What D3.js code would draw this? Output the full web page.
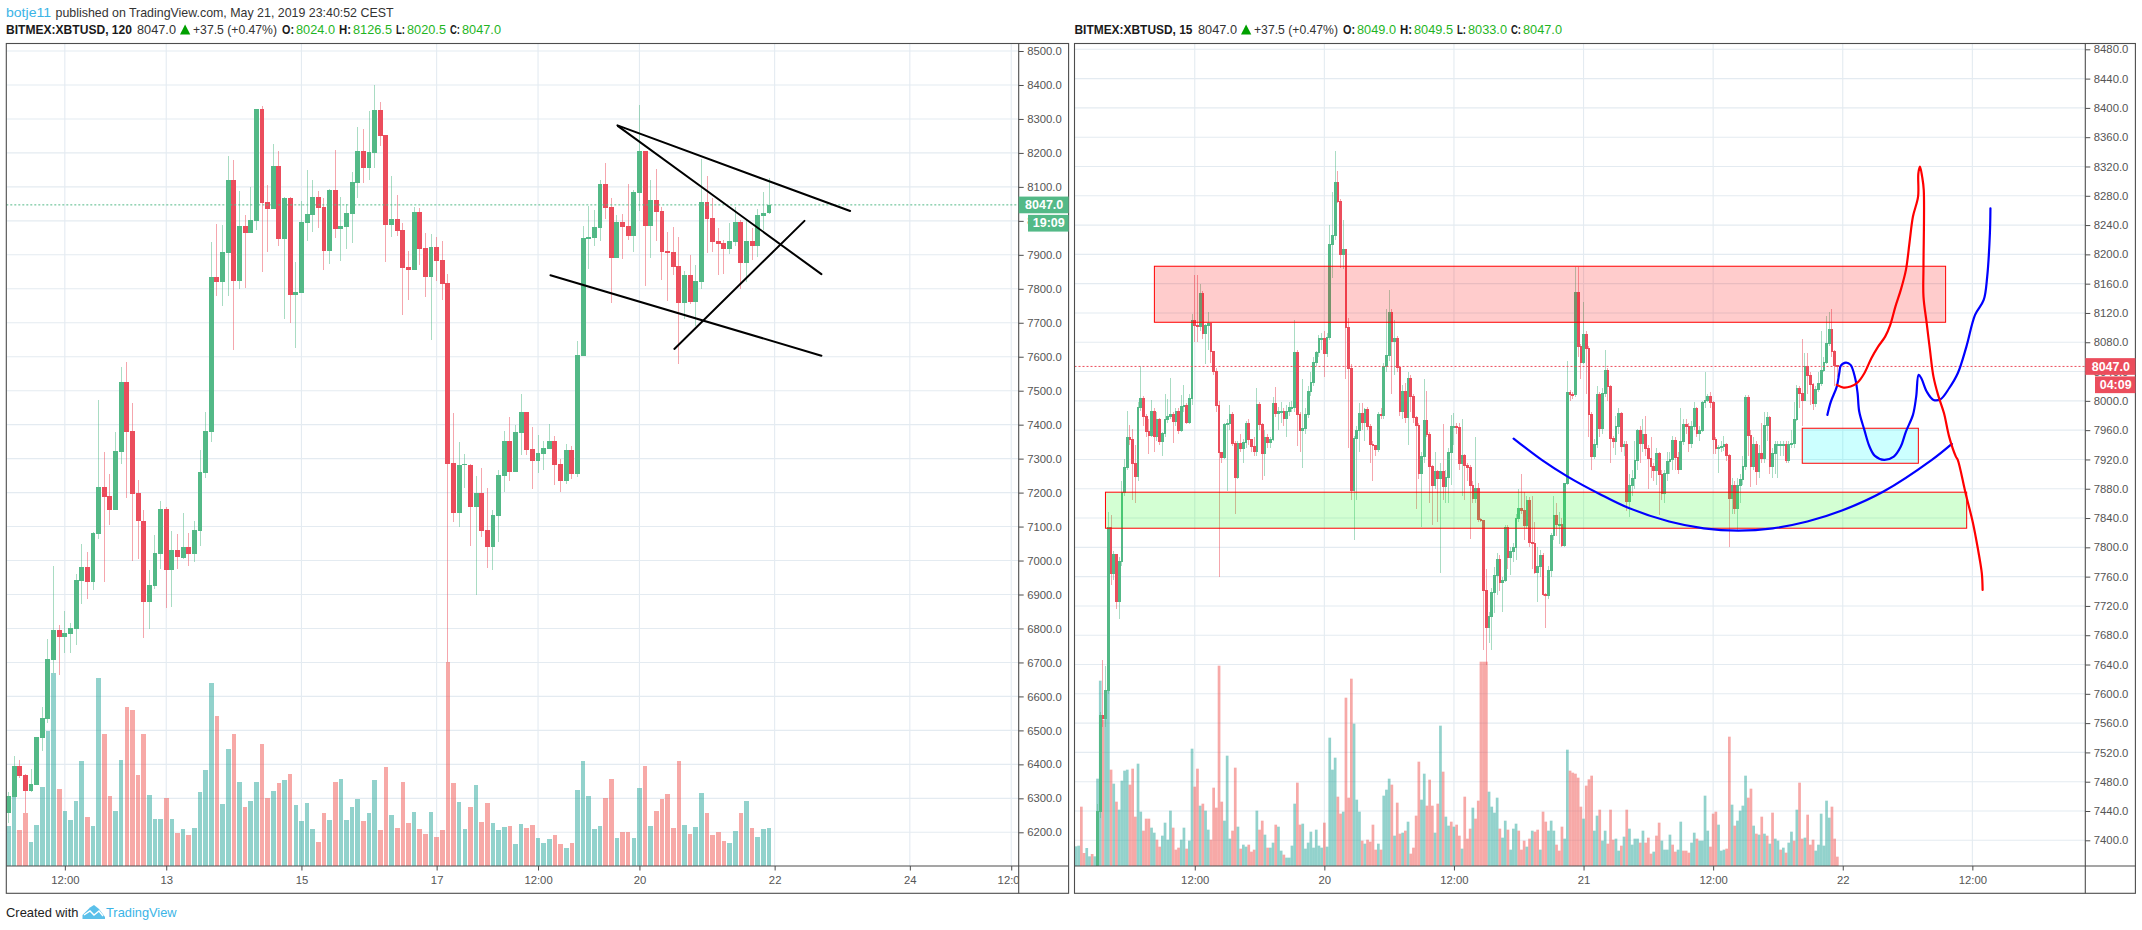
<!DOCTYPE html>
<html><head><meta charset="utf-8">
<script src="https://cdn.jsdelivr.net/npm/d3@7/dist/d3.min.js"></script>
<style>html,body{margin:0;padding:0;background:#fff}svg{display:block}text{font-family:"Liberation Sans",Arial,sans-serif}</style>
</head><body><svg id="c" width="2142" height="930"></svg>
<script>
// ---------- LEFT CHART (120 min) ----------
const leftOpen=[6258,6305,6395,6369,6323,6340,6479,6535,6707,6796,
6776,6785,6799,6941,6981,6938,7078,7217,7190,7149,
7320,7526,7382,7198,7115,6879,6925,7019,7151,6972,
7031,7008,7040,7019,7087,7259,7379,7834,7820,7905,
8120,7823,7985,7965,8000,8329,8056,8035,8161,7947,
8067,7782,7788,7994,8017,8070,8041,7911,8091,7976,
7982,8021,8111,8206,8156,8200,8326,8253,7988,8006,
7973,7864,7855,8026,7920,7835,7923,7885,7817,7287,
7141,7281,7281,7159,7199,7090,7041,7132,7250,7352,
7261,7376,7437,7329,7293,7314,7329,7352,7284,7235,
7326,7255,7602,7947,7950,7979,8108,8041,7891,7997,
7985,7955,8082,8206,7985,8061,8029,7911,7908,7867,
7758,7841,7761,7820,8055,8008,7941,7935,7917,7938,
7997,7876,7941,7926,8014,8024];
const leftClose=[6307,6395,6367,6323,6342,6480,6536,6709,6796,6776,
6786,6800,6943,6981,6938,7080,7217,7188,7149,7323,
7526,7379,7196,7115,6879,6928,7021,7151,6972,7031,
7009,7040,7019,7090,7261,7382,7834,7820,7907,8119,
7823,7985,7965,8002,8329,8054,8035,8161,7947,8067,
7782,7790,7997,8020,8070,8038,7911,8091,7976,7985,
8023,8114,8206,8156,8203,8326,8250,7988,8006,7970,
7861,7855,8026,7917,7835,7923,7882,7814,7284,7141,
7281,7283,7159,7199,7087,7041,7134,7252,7352,7261,
7379,7437,7326,7293,7317,7331,7352,7281,7235,7326,
7255,7605,7950,7953,7982,8108,8038,7891,7997,7982,
7955,8085,8206,7985,8061,8026,7908,7905,7864,7758,
7841,7761,7823,8055,8005,7938,7932,7917,7941,7997,
7876,7941,7926,8017,8023,8047];
const leftHigh=[6320,6425,6413,6372,6387,6480,6569,6769,6984,6810,
6852,6815,6960,7049,7024,7085,7473,7320,7255,7379,
7570,7585,7464,7237,7149,6972,7075,7175,7159,7087,
7078,7139,7080,7116,7326,7437,7938,7991,7988,8191,
8179,8088,8017,8099,8329,8338,8106,8226,8206,8071,
8071,7880,8058,8150,8120,8088,8067,8094,8209,8071,
8050,8144,8276,8270,8323,8400,8350,8253,8132,8076,
7994,7911,8041,8038,7964,7961,7953,7941,7844,7435,
7349,7314,7285,7250,7272,7214,7149,7267,7382,7423,
7399,7490,7437,7393,7370,7352,7402,7367,7299,7343,
7337,7646,7985,8044,8032,8120,8170,8067,8017,8020,
8108,8091,8341,8206,8120,8153,8040,7967,7982,7953,
7852,7900,7870,8182,8132,8067,7979,7944,7994,8041,
8003,8003,7979,8035,8085,8126.5];
const leftLow=[6227,6305,6361,6256,6320,6340,6438,6523,6670,6663,
6729,6729,6752,6872,6887,6913,7062,6938,7105,7149,
7284,7183,7000,7005,6773,6799,6916,6975,6861,6864,
6975,7005,6985,6997,7043,7244,7349,7780,7750,7780,
7620,7800,7802,7965,7973,7849,7909,8035,7926,7711,
7700,7627,7788,7941,7967,7979,7855,7873,7950,7882,
7917,7935,8067,8111,8120,8156,8220,7879,7953,7955,
7723,7767,7855,7870,7776,7649,7823,7767,6700,7114,
7100,7214,7043,6899,7070,6979,6973,7056,7202,7235,
7261,7311,7311,7211,7257,7267,7329,7222,7202,7225,
7241,7247,7602,7858,7926,7941,8005,7758,7891,7888,
7944,7908,8029,7808,7891,7941,7826,7764,7841,7579,
7711,7755,7691,7800,7905,7908,7841,7844,7902,7926,
7800,7820,7885,7894,7973,8020.5];
// volume in millions; sign of candle gives the colour
const leftVolume=[121,209,109,159,73,124,238,406,580,232,
166,139,196,316,148,121,565,397,211,166,
319,478,469,274,397,214,142,142,205,142,
100,112,94,115,223,289,550,451,187,352,
397,253,178,196,253,367,205,226,250,259,
277,184,136,190,112,73,160,139,253,262,
139,178,202,136,160,259,109,298,154,115,
253,130,163,112,97,163,88,109,613,250,
193,112,178,244,133,190,130,109,118,121,
67,127,115,124,85,70,82,94,67,55,
70,229,316,211,112,121,205,262,85,103,
103,85,235,301,121,166,202,217,115,316,
124,97,118,220,160,94,103,76,70,106,
160,196,115,88,112,115];
const leftTickIndex=[10,28,52,76,94,112,136,160,178];
const leftTickLabels=["12:00","13","15","17","12:00","20","22","24","12:00"];
const leftPriceTicks=[8500,8400,8300,8200,8100,8000,7900,7800,7700,7600,7500,7400,7300,7200,7100,7000,6900,6800,6700,6600,6500,6400,6300,6200];
// hand-drawn trend lines: [bar index, price] pairs
const leftTrend1=[[108.1,8281],[149.4,8029]];
const leftTrend2=[[108.2,8279],[144.3,7843]];
const leftTrend3=[[118.2,7623],[141.3,8000]];
const leftTrend4=[[96.2,7840],[144.3,7603]];

// ---------- RIGHT CHART (15 min); bar index starts at -8 ----------
const rightFirstIndex=-8, rightFirstOpen=7310;
const rightClose=[7320,7325,7318,7330,7335,7340,7345,7350,7439,7570,
7566,7604,7827,7764,7790,7726,7781,7875,7909,7950,
7947,7914,7897,7991,8003,7978,7958,7953,7986,7951,
7974,7944,7956,7975,7978,7981,7972,7985,7960,7992,
7994,7970,8003,8110,8103,8102,8147,8092,8103,8106,
8068,8040,7993,7929,7922,7968,7969,7981,7942,7895,
7942,7935,7943,7969,7947,7937,7931,7995,7968,7928,
7950,7943,7947,7997,7983,7985,7986,7976,7986,7991,
7991,8066,7981,7960,7962,7981,8013,8025,8052,8066,
8085,8085,8065,8087,8214,8226,8298,8272,8200,8207,
8100,8044,7878,7948,7959,7983,7970,7988,7965,7941,
7939,7933,7982,7980,8047,8062,8120,8081,8085,8045,
7985,8013,7977,8031,8006,7977,7967,7901,7924,7973,
7954,7911,7885,7904,7894,7904,7883,7896,7929,7965,
7965,7964,7915,7926,7912,7909,7884,7867,7881,7838,
7836,7741,7690,7705,7739,7761,7783,7752,7755,7827,
7786,7794,7800,7840,7853,7850,7830,7864,7806,7805,
7765,7774,7789,7735,7734,7768,7816,7843,7831,7831,
7802,7887,8011,8009,8008,8148,8074,8053,8091,8071,
7981,7924,7940,8008,7962,8010,8041,8020,7949,7945,
7965,7983,7937,7941,7862,7885,7894,7919,7960,7942,
7954,7935,7921,7910,7905,7928,7899,7874,7901,7917,
7920,7946,7922,7906,7944,7968,7965,7942,7965,7990,
7956,7960,7998,8001,8006,7998,7947,7935,7936,7938,
7941,7925,7867,7885,7853,7885,7892,7910,8005,7953,
7910,7941,7903,7928,7921,7967,7977,7910,7928,7940,
7940,7940,7940,7919,7940,7942,7975,8017,8010,8001,
8047,8034,8022,7996,8016,8024,8042,8053,8078,8098,
8067,8048,8047];
const rightHigh=[7335,7338,7332,7342,7345,7350,7355,7360,7450,7575,
7646,7638,7848,7844,7795,7790,7787,7890,7920,7986,
7967,7962,7940,7998,8047,8006,7982,7975,8001,7990,
7985,7977,7958,8010,8003,8031,7985,7990,7990,8008,
8022,7997,8010,8118,8172,8172,8160,8150,8105,8122,
8106,8068,8045,8000,7925,7970,7975,7995,7985,7945,
7945,7955,7948,7972,7975,7948,7950,8018,7998,7970,
7960,7955,7950,8005,8019,7992,7998,7990,7995,7998,
8000,8110,8070,7985,8030,7990,8020,8040,8060,8068,
8090,8092,8095,8092,8240,8285,8341,8314,8275,8247,
8207,8113,8050,7952,7965,7997,7997,7990,7992,7968,
7945,7940,7985,7990,8052,8125,8152,8125,8110,8088,
8048,8022,8025,8040,8035,8010,7980,7970,7930,8030,
8014,7958,7912,7930,7905,7915,7969,7905,7935,7981,
7983,7970,7970,7975,7928,7915,7912,7890,7950,7888,
7840,7836,7770,7712,7745,7773,7792,7790,7760,7830,
7830,7800,7806,7845,7880,7900,7875,7870,7869,7870,
7835,7800,7797,7792,7737,7775,7820,7870,7860,7848,
7840,7887,8055,8015,8012,8183,8183,8078,8135,8095,
8075,7985,7948,8020,8012,8018,8069,8045,8022,7952,
7980,7990,7985,7945,7945,7900,7905,7945,7962,7965,
7975,7980,7940,7950,7915,7935,7930,7905,7905,7930,
7930,7952,7950,7930,7990,7975,7975,7970,7972,7998,
7992,7965,8000,8040,8010,8012,8000,7950,7940,7945,
7952,7943,7928,7895,7890,7895,7900,7925,8008,8008,
7960,7950,7945,7940,7970,7985,7985,7980,7935,7945,
7945,7945,7945,7945,7945,7960,7998,8022,8020,8085,
8065,8065,8040,8025,8020,8040,8096,8060,8116,8121,
8126,8070,8049.5];
const rightLow=[7310,7315,7310,7318,7325,7330,7335,7340,7345,7430,
7555,7555,7600,7748,7755,7716,7702,7775,7870,7905,
7940,7864,7861,7891,7986,7965,7950,7928,7950,7930,
7945,7940,7925,7950,7970,7975,7943,7965,7955,7958,
7985,7968,7968,7995,8080,8081,8095,8085,8050,8070,
8052,8035,7985,7760,7915,7920,7877,7960,7938,7846,
7893,7930,7915,7935,7940,7930,7925,7925,7960,7892,
7897,7935,7935,7945,7978,7960,7970,7965,7950,7980,
7985,7985,7938,7930,7909,7955,7977,8007,8020,8048,
8060,8070,8032,8060,8083,8168,8220,8270,8182,8180,
8030,7935,7864,7810,7865,7930,7960,7945,7960,7915,
7891,7925,7930,7975,7975,8040,8055,8010,8035,8040,
7980,7975,7970,7940,7985,7970,7853,7893,7828,7915,
7950,7860,7830,7880,7835,7765,7865,7860,7860,7885,
7940,7955,7905,7870,7865,7890,7811,7860,7860,7835,
7835,7660,7640,7670,7660,7710,7735,7740,7712,7752,
7770,7762,7780,7783,7835,7845,7810,7825,7800,7770,
7763,7725,7760,7733,7690,7730,7760,7810,7815,7805,
7800,7800,7885,8000,8003,8005,8060,8030,8050,8010,
7950,7906,7920,7935,7950,7955,8005,8000,7915,7935,
7926,7955,7930,7925,7850,7842,7870,7880,7905,7915,
7930,7925,7880,7895,7890,7885,7844,7865,7860,7890,
7900,7905,7905,7900,7905,7940,7955,7930,7935,7960,
7950,7945,7958,7990,7998,7990,7928,7928,7901,7930,
7932,7918,7800,7845,7845,7823,7860,7885,7905,7925,
7882,7905,7885,7895,7915,7915,7945,7900,7895,7900,
7894,7925,7925,7915,7915,7935,7935,7972,7990,7965,
8000,8010,7995,7988,7992,8012,8020,8040,8050,8075,
8060,8020,8033];
// signed volume in millions: negative is a down bar
const rightVolume=[59,61,-178,-39,54,29,-36,29,262,556,
-439,527,527,-289,247,-193,169,256,286,289,
-244,-292,-148,307,163,-106,-142,-142,115,100,
-79,-58,91,130,79,166,-115,-49,-55,79,
115,-52,76,352,-238,-292,181,-187,166,109,
-79,-235,-175,-601,-193,136,331,82,-106,-295,
118,-52,64,58,-64,-43,-49,166,-109,-136,
94,-55,55,70,-124,118,46,-34,25,25,
61,187,-250,-124,127,52,70,103,55,109,
61,55,-130,58,385,289,325,-208,-157,163,
-505,-205,-562,427,199,163,-76,67,-79,-73,
-124,-49,67,-49,211,229,262,-244,91,-190,
-97,100,-106,133,-37,-55,-151,-313,199,277,
-181,-259,-181,100,-187,421,-283,148,121,-133,
118,-124,-91,52,-208,-82,-112,175,-142,-196,
-613,-613,-613,223,178,160,205,-112,85,136,
-109,49,112,127,-106,-49,-76,58,-82,106,
-103,-109,49,-163,-133,106,136,106,-64,-46,
-118,82,349,-286,-280,-277,-265,-178,142,-241,
-260,-271,106,151,-169,76,106,-67,-169,-79,
82,46,-61,88,-169,112,64,82,82,-70,
106,-70,-85,-37,43,-91,-130,76,49,49,
94,-64,-43,49,133,-46,-46,-40,70,100,
-82,76,76,211,106,-58,-157,-163,124,46,
49,-52,-388,184,-121,136,166,181,271,-205,
-232,121,-97,94,-148,97,-91,67,-160,82,
76,-49,55,-40,70,103,-76,169,-250,-82,
85,-154,-64,-79,46,64,157,61,196,145,
-178,-82,-28];
const rightTickIndex=[36,84,132,180,228,276,324];
const rightTickLabels=["12:00","20","12:00","21","12:00","22","12:00"];
const rightPriceTicks=[8480,8440,8400,8360,8320,8280,8240,8200,8160,8120,8080,8040,8000,7960,7920,7880,7840,7800,7760,7720,7680,7640,7600,7560,7520,7480,7440,7400];
// zones: [start bar, end bar, top price, bottom price]
const resistanceZone=[21.05,314.1,8183.8,8107.3];
const supportZone=[2.93,321.9,7875.3,7826.1];
const targetZone=[261,304,7962.6,7914.8];
const blueArc=[[154.1,7948.5],[164.5,7919.4],[174.1,7896.6],[186.1,7872.5],[196.3,7854.3],[211.7,7835.2],[224.5,7826],[237.3,7822.9],[250.1,7826],[262.9,7835.2],[275.7,7850.2],[291.1,7876.2],[309,7919.4],[316.4,7941.2]];
const blueWave=[[270.3,7980.8],[271.6,7999],[273.8,8019.5],[274.7,8037.7],[275.3,8048.2],[277.2,8052.3],[278.9,8049.1],[280.6,8030.9],[281.5,8010.4],[282.1,7985.4],[284,7960.3],[285.9,7937.6],[287.9,7924.8],[291.3,7919.4],[294.9,7923.9],[297.5,7937.6],[299.4,7958.1],[302,7980.8],[303.2,8005.8],[304.1,8035.4],[305.1,8030.9],[307.1,8012.7],[309.6,8001.3],[312.2,8002.2],[315.4,8017.2],[318.6,8037.7],[321.8,8074.1],[325,8117.3],[328.2,8137.8],[329.5,8169.7],[330.5,8228.8],[330.7,8263]];
const redWave=[[273.8,8021.8],[276.3,8018.1],[278.9,8019.5],[281.5,8025],[284,8037.7],[286.6,8058.2],[289.1,8074.1],[291.7,8087.7],[293.6,8103.7],[295.5,8128.7],[297.5,8151.5],[299.4,8178.8],[300.7,8215.2],[302,8251.6],[303.9,8278.9],[304,8310.7],[304.6,8319.8],[305.4,8306.2],[306,8288],[305.9,8183.3],[305.9,8142.4],[307.1,8105.9],[308.3,8069.5],[309.6,8033.1],[311.3,8008.1],[313.5,7983],[315.4,7951.2],[317.9,7923.9],[318.6,7919.4],[321.5,7873.9],[324.1,7835.2],[325.9,7801.1],[327.5,7764.7],[327.8,7741.9]];

// ---------- header text ----------
const headerLine="published on TradingView.com, May 21, 2019 23:40:52 CEST";
const leftHeader={sym:"BITMEX:XBTUSD, 120",o:"8024.0",h:"8126.5",l:"8020.5",c:"8047.0"};
const rightHeader={sym:"BITMEX:XBTUSD, 15",o:"8049.0",h:"8049.5",l:"8033.0",c:"8047.0"};

// ---------- drawing ----------
const GREEN="#53b987",RED="#eb4d5c",GRID="#e4ebf1",FRAME="#4d4d4d",AXT="#555";
const svg=d3.select("#c");
const yBottom=866,frameTop=43.5,frameBottom=893.3;
const volumeY=d3.scaleLinear().domain([0,1000]).range([yBottom,yBottom-333.3]);

function panel(o){
  const g=svg.append("g");
  const x=d3.scaleLinear().domain(o.xDomain).range(o.xRange);
  const y=d3.scaleLinear().domain(o.yDomain).range(o.yRange);
  const clip=o.id+"clip";
  svg.append("clipPath").attr("id",clip).append("rect").attr("x",o.left).attr("y",frameTop).attr("width",o.axisX-o.left).attr("height",yBottom-frameTop);
  const tclip=o.id+"tclip";
  svg.append("clipPath").attr("id",tclip).append("rect").attr("x",o.left).attr("y",yBottom).attr("width",o.axisX-o.left).attr("height",frameBottom-yBottom);
  const pane=g.append("g").attr("clip-path",`url(#${clip})`);
  // grid
  pane.selectAll(".h").data(o.priceTicks).join("line").attr("x1",o.left).attr("x2",o.axisX).attr("y1",d=>y(d)).attr("y2",d=>y(d)).attr("stroke",GRID).attr("stroke-width",1.1);
  pane.selectAll(".v").data(o.tickIndex).join("line").attr("x1",d=>x(d)).attr("x2",d=>x(d)).attr("y1",frameTop).attr("y2",yBottom).attr("stroke",GRID).attr("stroke-width",1.1);
  // volume
  pane.selectAll(".vol").data(o.bars).join("rect").attr("shape-rendering",o.volCrisp?"crispEdges":"auto")
    .attr("x",d=>x(d.i)-o.volW/2).attr("width",o.volW)
    .attr("y",d=>volumeY(Math.abs(d.v))).attr("height",d=>yBottom-volumeY(Math.abs(d.v)))
    .attr("fill",d=>d.vUp?"#26a69a":"#ef5350").attr("fill-opacity",.5);
  // wicks & bodies
  pane.selectAll(".w").data(o.bars).join("line").attr("shape-rendering","crispEdges")
    .attr("x1",d=>x(d.i)).attr("x2",d=>x(d.i)).attr("y1",d=>y(d.h)).attr("y2",d=>y(d.l))
    .attr("stroke",d=>d.c>=d.o?GREEN:RED).attr("stroke-opacity",.5).attr("stroke-width",1);
  pane.selectAll(".b").data(o.bars).join("rect").attr("shape-rendering","crispEdges")
    .attr("x",d=>x(d.i)-o.bodyW/2).attr("width",o.bodyW)
    .attr("y",d=>y(Math.max(d.o,d.c))-o.bodyPad/2).attr("height",d=>Math.max(1,Math.abs(y(d.o)-y(d.c)))+o.bodyPad)
    .attr("fill",d=>d.c>=d.o?GREEN:RED);
  // price line
  pane.append("line").attr("x1",o.left).attr("x2",o.axisX).attr("y1",y(8047)).attr("y2",y(8047)).attr("stroke",o.lastColor).attr("stroke-width",1).attr("stroke-dasharray","2,2");
  // drawings
  (o.zones||[]).forEach(z=>{
    pane.append("rect").attr("x",x(z.d[0])).attr("width",x(z.d[1])-x(z.d[0])).attr("y",y(z.d[2])).attr("height",y(z.d[3])-y(z.d[2]))
      .attr("fill",z.fill).attr("fill-opacity",.2).attr("stroke","#ff0000").attr("stroke-width",1);
  });
  const line=d3.line().x(d=>x(d[0])).y(d=>y(d[1]));
  (o.paths||[]).forEach(p=>{
    pane.append("path").attr("d",(p.curve?line.curve(d3.curveCatmullRom):line.curve(d3.curveLinear))(p.d)).attr("fill","none").attr("stroke",p.color).attr("stroke-width",p.w).attr("stroke-linecap","round");
  });
  // price axis
  const ay=g.append("g").attr("transform",`translate(${o.axisX},0)`).call(d3.axisRight(y).tickValues(o.priceTicks).tickSize(5).tickPadding(3.5).tickFormat(d3.format(".1f")));
  ay.select(".domain").remove();
  ay.selectAll("line").attr("stroke",FRAME);
  ay.selectAll("text").attr("fill",AXT).style("font-size","11.3px").style("font-family",'"Liberation Sans",Arial,sans-serif');
  // time axis
  const ax=g.append("g").attr("clip-path",`url(#${tclip})`).append("g").attr("transform",`translate(0,${yBottom})`)
    .call(d3.axisBottom(x).tickValues(o.tickIndex).tickSize(4.5).tickPadding(5).tickFormat((d,i)=>o.tickLabels[i]));
  ax.select(".domain").remove();
  ax.selectAll("line").attr("stroke",FRAME);
  ax.selectAll("text").attr("fill",AXT).style("font-size","11.3px").style("font-family",'"Liberation Sans",Arial,sans-serif');
  // frame
  const fr=(a,b,c,d)=>g.append("line").attr("x1",a).attr("y1",b).attr("x2",c).attr("y2",d).attr("stroke",FRAME).attr("stroke-width",1.1);
  g.append("rect").attr("x",o.left).attr("y",frameTop).attr("width",o.right-o.left).attr("height",frameBottom-frameTop).attr("fill","none").attr("stroke",FRAME).attr("stroke-width",1.1);
  fr(o.axisX,frameTop,o.axisX,frameBottom);
  fr(o.left,yBottom,o.right,yBottom);
  // last price labels
  g.append("rect").attr("x",o.axisX).attr("width",o.right-o.axisX).attr("y",y(8047)-8.3).attr("height",16.7).attr("fill",o.lastColor);
  g.append("text").attr("x",(o.axisX+o.right)/2+.5).attr("y",y(8047)+4.3).attr("text-anchor","middle").attr("fill","#fff").style("font-size","12.5px").style("font-weight","bold").text("8047.0");
  g.append("rect").attr("x",o.timerX).attr("width",o.right-o.timerX).attr("y",y(8047)+10).attr("height",16.7).attr("fill",o.lastColor);
  g.append("text").attr("x",(o.timerX+o.right)/2+.5).attr("y",y(8047)+22.6).attr("text-anchor","middle").attr("fill","#fff").style("font-size","12.5px").style("font-weight","bold").text(o.timer);
}

const leftBars=leftOpen.map((v,i)=>({i,o:v,h:leftHigh[i],l:leftLow[i],c:leftClose[i],v:leftVolume[i],vUp:leftClose[i]>=v}));
const rightBars=rightClose.map((c,k)=>({i:k+rightFirstIndex,o:k?rightClose[k-1]:rightFirstOpen,h:rightHigh[k],l:rightLow[k],c,v:rightVolume[k],vUp:rightVolume[k]>=0}));

panel({id:"l",left:6.3,right:1068.6,axisX:1018.7,xDomain:[0,135],xRange:[8.5,769],yDomain:[8500,6200],yRange:[51,832.3],
  priceTicks:leftPriceTicks,tickIndex:leftTickIndex,tickLabels:leftTickLabels,bars:leftBars,bodyW:4.9,bodyPad:0,volW:4.6,volCrisp:true,lastColor:GREEN,timer:"19:09",timerX:1028,
  paths:[{d:leftTrend1,color:"#000",w:2},{d:leftTrend2,color:"#000",w:2},{d:leftTrend3,color:"#000",w:2},{d:leftTrend4,color:"#000",w:2}]});
panel({id:"r",left:1074.5,right:2135.4,axisX:2085.3,xDomain:[0,274],xRange:[1097.55,1837.35],yDomain:[8480,7400],yRange:[49.3,840.3],
  priceTicks:rightPriceTicks,tickIndex:rightTickIndex,tickLabels:rightTickLabels,bars:rightBars,bodyW:2.7,bodyPad:1,volW:2.7,volCrisp:false,lastColor:RED,timer:"04:09",timerX:2095,
  zones:[{d:resistanceZone,fill:"#ff0000"},{d:supportZone,fill:"#22ff22"},{d:targetZone,fill:"#00ffff"}],
  paths:[{d:blueArc,color:"#0000ff",w:2.2,curve:true},{d:blueWave,color:"#0000ff",w:2.2,curve:true},{d:redWave,color:"#ff0000",w:2.2,curve:true}]});

// header: len fits each text to the width it has in the reference
const T=(x,y,s,fill,bold,len,size)=>{
  const t=svg.append("text").attr("x",x).attr("y",y).attr("fill",fill).style("font-size",(size||13)+"px").style("font-weight",bold?"bold":"normal").text(s);
  if(len) t.attr("textLength",len).attr("lengthAdjust","spacingAndGlyphs");
  return t;
};
T(6,17,"botje11","#3bb4e6",false,45);
T(55.5,17,headerLine,"#333",false,338);
function head(h,off){
  T(off,34.3,h.sym,"#1a1a1a",true,h.symW);
  T(off+h.dx,34.3,"8047.0","#333",false,39);
  svg.append("path").attr("d",`M${off+h.dx+43},34.5L${off+h.dx+48.1},24.5L${off+h.dx+53.3},34.5Z`).attr("fill","#00a000");
  T(off+h.dx+56,34.3,"+37.5 (+0.47%)","#333",false,84);
  T(off+h.dx+145,34.3,"O:","#1a1a1a",true,12);
  T(off+h.dx+159,34.3,h.o,"#1fb51f",false,39);
  T(off+h.dx+202,34.3,"H:","#1a1a1a",true,12);
  T(off+h.dx+216,34.3,h.h,"#1fb51f",false,39);
  T(off+h.dx+259,34.3,"L:","#1a1a1a",true,9);
  T(off+h.dx+270,34.3,h.l,"#1fb51f",false,39);
  T(off+h.dx+313,34.3,"C:","#1a1a1a",true,10);
  T(off+h.dx+325,34.3,h.c,"#1fb51f",false,39);
}
head({...leftHeader,dx:131,symW:126},6);
head({...rightHeader,dx:123.5,symW:118},1074.5);
// footer
T(6,917,"Created with","#222",false,72.5);
svg.append("path").attr("d","M82.5,919L82.5,915L90,907.5L94,905L99,909L105,917L105,919Z").attr("fill","#5bc0ea");
svg.append("path").attr("d","M84,915L90,911L94,915L99,911L103,916").attr("fill","none").attr("stroke","#fff").attr("stroke-width",1.4);
T(106,917,"TradingView","#3bb4e6",false,70.6);
</script></body></html>
